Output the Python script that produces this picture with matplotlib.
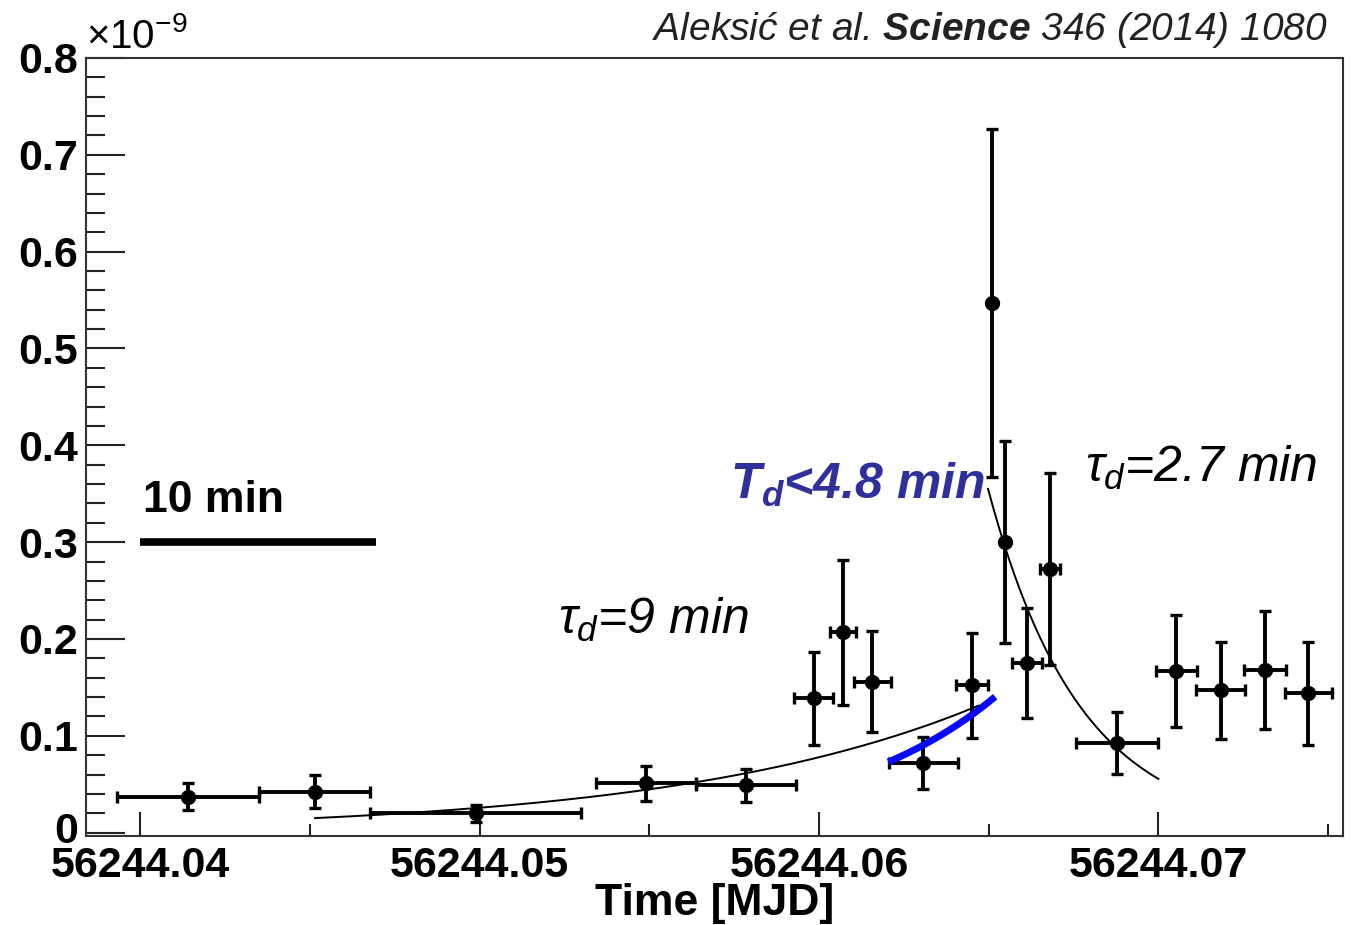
import matplotlib.pyplot as plt
import numpy as np
from matplotlib.ticker import MultipleLocator, FixedLocator
from matplotlib.transforms import ScaledTranslation

# MAGIC light curve, flux in units of 1e-9 (cm^-2 s^-1)
mjd = [56244.04141, 56244.04514, 56244.04988, 56244.05490, 56244.05785,
       56244.05984, 56244.06070, 56244.06157, 56244.06307, 56244.06451,
       56244.06511, 56244.06549, 56244.06613, 56244.06681, 56244.06878,
       56244.07053, 56244.07183, 56244.07314, 56244.07442]
mjd_halfwidth = [0.00209, 0.00163, 0.00311, 0.00148, 0.00147,
                 0.00057, 0.00039, 0.00055, 0.00102, 0.00048,
                 0.0, 0.0, 0.00045, 0.00030, 0.00120,
                 0.00060, 0.00073, 0.00063, 0.00070]
flux = [0.037, 0.042, 0.020, 0.051, 0.049,
        0.139, 0.207, 0.156, 0.072, 0.152,
        0.547, 0.300, 0.175, 0.272, 0.093,
        0.167, 0.147, 0.168, 0.144]
flux_err = [0.014, 0.017, 0.009, 0.018, 0.017,
            0.048, 0.075, 0.052, 0.027, 0.054,
            0.180, 0.104, 0.057, 0.099, 0.032,
            0.058, 0.050, 0.061, 0.053]

# exponential fits: start, end, flux at start, doubling/halving time [min]
rise_fit = (56244.04515, 56244.0647, 0.0150, 9.0)
rise_fast_fit = (56244.06204, 56244.06519, 0.0729, 4.8)
decay_fit = (56244.06498, 56244.07000, 0.355, -2.7)

xticks = [56244.04, 56244.05, 56244.06, 56244.07]
yticks = [0, 0.1, 0.2, 0.3, 0.4, 0.5, 0.6, 0.7, 0.8]

MIN = 1.0 / (24 * 60)


def doubling_curve(t0, t1, f0, tau_min):
    t = np.linspace(t0, t1, 200)
    return t, f0 * 2 ** ((t - t0) / (tau_min * MIN))


plt.rcParams['font.family'] = ['Liberation Sans', 'DejaVu Sans']
plt.rcParams['mathtext.fontset'] = 'custom'
plt.rcParams['mathtext.rm'] = 'Liberation Sans'
plt.rcParams['mathtext.it'] = 'Liberation Sans:italic'
plt.rcParams['mathtext.bf'] = 'Liberation Sans:bold'
plt.rcParams['mathtext.bfit'] = 'Liberation Sans:bold:italic'

fig = plt.figure(figsize=(13.54, 9.25), dpi=100)
ax = fig.add_axes([0.0635, 0.0962, 0.9284, 0.8411])

ax.errorbar(mjd, flux, xerr=mjd_halfwidth, yerr=flux_err, fmt='o',
            color='black', ms=10, elinewidth=2.8, capsize=4.3, capthick=2.4)

t, f = doubling_curve(*rise_fit)
ax.plot(t, f, color='black', lw=1.4)
t, f = doubling_curve(*decay_fit)
ax.plot(t, f, color='black', lw=1.4)
t, f = doubling_curve(*rise_fast_fit)
ax.plot(t, f, color='#0a0af5', lw=5, solid_capstyle='butt')

# 10 minute scale bar
ax.plot([56244.04, 56244.04 + 10 * MIN], [0.3, 0.3], color='black', lw=5.5,
        solid_capstyle='butt')
ax.text(56244.04008, 0.331, '10 min', fontsize=32, fontweight='bold',
        va='baseline')

ax.text(56244.05231, 0.205, r'$\tau_d$=9 min', fontsize=36, style='italic',
        va='baseline')
ax.text(56244.06784, 0.3626, r'$\tau_d$=2.7 min', fontsize=36,
        style='italic', va='baseline')
ax.text(56244.05738, 0.345, r'$\mathbfit{T_d}$<4.8 min', fontsize=36,
        style='italic', fontweight='bold', color='#30309c', va='baseline')

ax.set_xlim(56244.0384, 56244.07544)
ax.set_ylim(-0.0035, 0.8)

ax.xaxis.set_major_locator(FixedLocator(xticks))
ax.set_xticklabels([f'{v:.2f}' for v in xticks])
ax.xaxis.set_minor_locator(MultipleLocator(0.005))
ax.set_yticks(yticks)
ax.set_yticklabels(['0' if v == 0 else f'{v:.1f}' for v in yticks])
ax.yaxis.set_minor_locator(MultipleLocator(0.02))

for lab in ax.get_xticklabels() + ax.get_yticklabels():
    lab.set_fontweight('bold')
ax.tick_params(axis='both', which='both', direction='in', width=1.5,
               color='#222222', labelsize=31)
ax.tick_params(axis='y', which='major', length=28, pad=6)
ax.tick_params(axis='y', which='minor', length=14)
ax.tick_params(axis='x', which='major', length=17, pad=7)
ax.tick_params(axis='x', which='minor', length=9)
ax.tick_params(top=False, right=False)

# lift the "0" a little so it clears the first time label
zero_label = ax.get_yticklabels()[0]
zero_label.set_transform(zero_label.get_transform()
                         + ScaledTranslation(0, 4 / 72, fig.dpi_scale_trans))

for s in ax.spines.values():
    s.set_linewidth(1.5)
    s.set_color('#333333')

ax.set_xlabel('Time [MJD]', fontsize=32, fontweight='bold', labelpad=-2)

fig.text(86 / 1354, 1 - 48 / 925, r'$\times$10$^{-9}$', fontsize=29,
         va='baseline', ha='left')
fig.text(1328 / 1354, 1 - 40 / 925,
         r'Aleksić et al. $\mathbfit{Science}$ 346 (2014) 1080',
         fontsize=28, style='italic', color='#222222', ha='right',
         va='baseline')

fig.savefig('out.png', dpi=100, facecolor='white')
